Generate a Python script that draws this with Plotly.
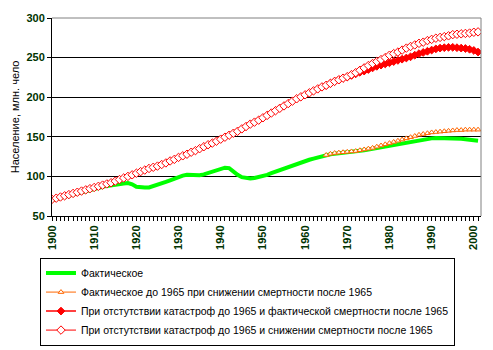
import plotly.graph_objects as go

years_all = list(range(1900, 2002))
years_post = list(range(1965, 2002))

actual = [70, 71.5, 73, 74.5, 76, 77.5, 79, 80.5, 82, 83.5,
          85, 86, 87, 88, 89, 89.5, 90, 91, 91.5, 90,
          87, 86, 86, 86, 87.5, 89.5, 91, 93, 95, 97,
          99.5, 101, 102, 101.5, 101, 101.5, 102.5, 104, 105.5, 107,
          109, 111, 110.5, 106, 102, 99, 98, 97.5, 98, 99,
          100, 102, 104, 106, 108, 110, 112, 114, 116, 118,
          119.5, 121, 122.5, 124, 125.5, 127, 128, 128.5, 129, 129.5,
          130, 130.5, 131, 132, 133, 134, 135, 136, 137, 138,
          139, 140, 141, 142, 143, 144, 145, 146, 147, 147.5,
          148, 148.5, 148.5, 148.5, 148.5, 148.5, 148, 147.5, 147, 146.5,
          146, 145]

reduced_after_1965 = [127, 128.5, 129.5, 130, 130.5, 131, 131.5, 132, 133, 134,
                      135, 136, 137.5, 139, 140.5, 142, 143.5, 145, 146.5, 148,
                      149.5, 151, 152.5, 153.5, 154.5, 155.5, 156, 156.5, 157, 157.5,
                      158, 158.5, 158.5, 159, 159, 159, 159]

no_catastrophe_actual_after = [215, 217.5, 220, 222, 224, 225.5, 227.5, 229.5, 231.5, 233,
                               235, 237, 239, 240.5, 242, 243.5, 245, 246.5, 248, 249.5,
                               251, 253, 255, 256.5, 258, 259.5, 261, 262, 262.5, 263,
                               263, 262.5, 262, 261.5, 260.5, 259, 257]

no_catastrophe_reduced_after = [71, 72.5, 74, 75.5, 77, 78.5, 80, 81.5, 83, 84.5,
                                86, 87.5, 89, 90.5, 92, 94, 96, 98, 100, 102,
                                104, 106, 108, 110, 111.5, 113, 115, 117, 119.5, 121.5,
                                124, 126, 128, 130.5, 132.5, 135, 137.5, 140, 142, 144.5,
                                147, 149.5, 152, 154.5, 157, 160, 163, 166, 168.5, 171,
                                174, 177, 180, 183, 186, 189, 192, 195, 198, 200.5,
                                203, 205.5, 208, 210.5, 213, 215, 217.5, 220, 222, 224,
                                226, 228.5, 231, 234, 237, 240, 242.5, 245, 247.5, 250,
                                253, 255, 257, 259.5, 262, 264, 266, 268, 269.5, 271.5,
                                273, 274.5, 275.5, 276.5, 277.5, 279, 279.5, 280, 280.5, 281,
                                282, 282.5]

names = ["Фактическое",
         "Фактическое до 1965 при снижении смертности после 1965",
         "При отстутствии катастроф до 1965 и фактической смертности после 1965",
         "При отстутствии катастроф до 1965 и снижении смертности после 1965"]

x_ticks = list(range(1900, 2001, 10))
y_ticks = [50, 100, 150, 200, 250, 300]

fig = go.Figure()
fig.add_trace(go.Scatter(x=years_all, y=actual, name=names[0], mode="lines",
                         line=dict(color="#00FF00", width=4)))
fig.add_trace(go.Scatter(x=years_post, y=reduced_after_1965, name=names[1], mode="lines+markers",
                         line=dict(color="#FF6600", width=1),
                         marker=dict(symbol="triangle-up", size=5, color="white",
                                     line=dict(color="#FF6600", width=1))))
fig.add_trace(go.Scatter(x=years_post, y=no_catastrophe_actual_after, name=names[2], mode="lines+markers",
                         line=dict(color="#FF0000", width=1.5),
                         marker=dict(symbol="diamond", size=6, color="#FF0000",
                                     line=dict(color="#FF0000", width=1))))
fig.add_trace(go.Scatter(x=years_all, y=no_catastrophe_reduced_after, name=names[3], mode="lines+markers",
                         line=dict(color="#FF0000", width=1),
                         marker=dict(symbol="diamond", size=6.5, color="white",
                                     line=dict(color="#FF0000", width=1))))

tick_font = dict(family="Liberation Sans, Arial", size=11, color="#003300", weight="bold")

fig.update_layout(
    width=493, height=350,
    margin=dict(l=52, r=12, t=18, b=134, autoexpand=False),
    paper_bgcolor="white", plot_bgcolor="white",
    showlegend=True,
    legend=dict(x=-0.028, y=-0.21, xanchor="left", yanchor="top",
                bordercolor="black", borderwidth=1, bgcolor="white",
                font=dict(family="Liberation Sans, Arial", size=10.5, color="black"),
                tracegroupgap=0, itemwidth=30),
    xaxis=dict(range=[1900, 2001.7], tickmode="array", tickvals=x_ticks,
               ticktext=[str(v) for v in x_ticks], tickangle=-90,
               tickfont=tick_font, ticks="outside", ticklen=4, tickcolor="black",
               minor=dict(dtick=1, ticks="outside", ticklen=4, tickcolor="black"),
               showline=True, linecolor="black", linewidth=1, showgrid=False,
               zeroline=False, automargin=False),
    yaxis=dict(range=[50, 300], tickmode="array", tickvals=y_ticks,
               tickfont=tick_font, ticks="outside", ticklen=4, tickcolor="black",
               showline=True, linecolor="black", linewidth=1,
               showgrid=True, gridcolor="black", gridwidth=1, zeroline=False,
               automargin=False,
               title=dict(text="Население, млн. чело",
                          font=dict(family="Liberation Sans, Arial", size=11, color="black"),
                          standoff=4)),
    shapes=[
        dict(type="line", xref="paper", yref="paper", x0=0, x1=1, y0=1, y1=1,
             line=dict(color="#808080", width=1), layer="above"),
        dict(type="line", xref="paper", yref="paper", x0=1, x1=1, y0=0, y1=1,
             line=dict(color="#808080", width=1), layer="above"),
    ],
)

fig.write_html("out.html")
